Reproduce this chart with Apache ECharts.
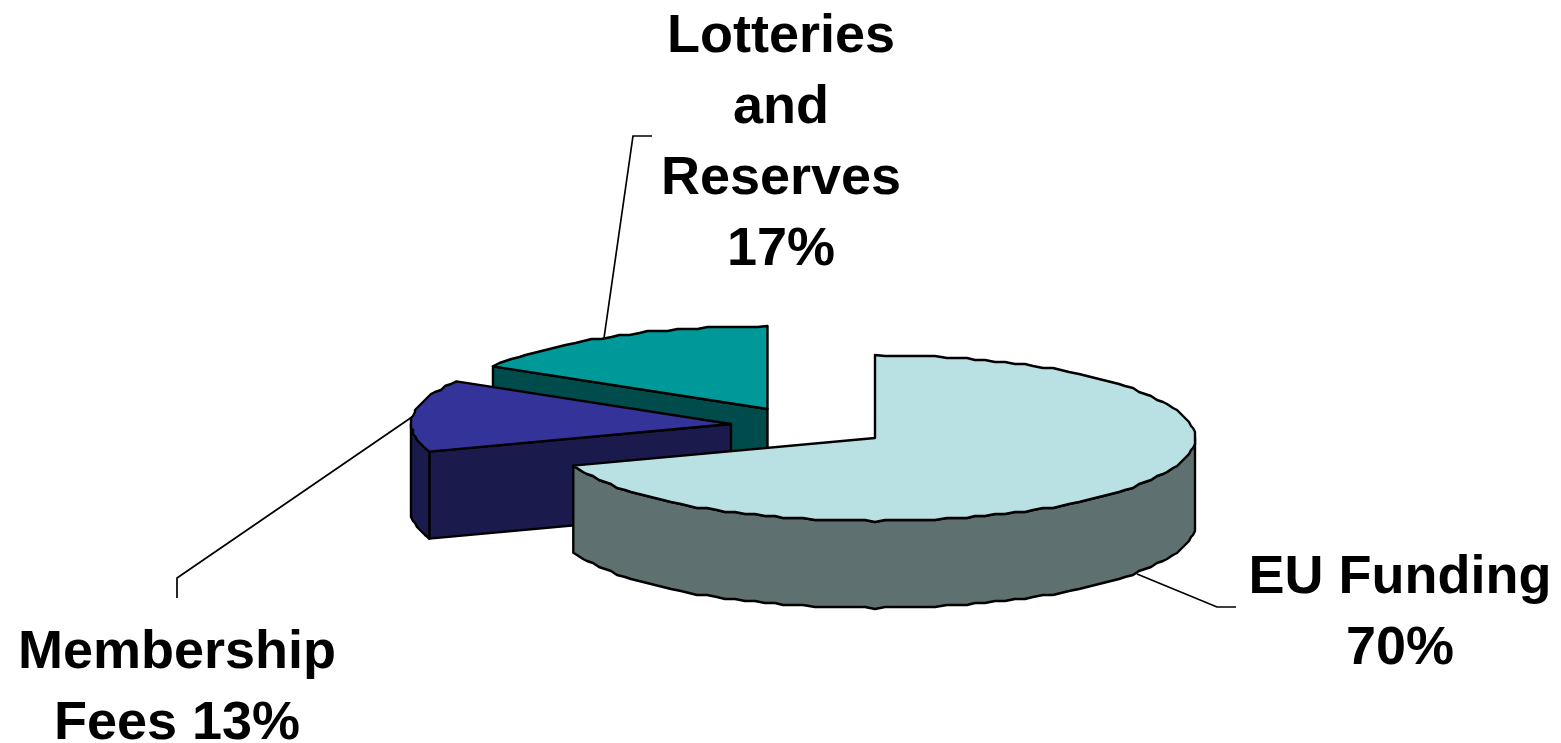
<!DOCTYPE html>
<html>
<head>
<meta charset="utf-8">
<style>html,body{margin:0;padding:0;background:#fff}#c{width:1561px;height:743px}</style>
<script src="https://cdn.jsdelivr.net/npm/echarts@6/dist/echarts.min.js"></script>
</head>
<body>
<div id="c"></div>
<script>
const categories = ['EU Funding', 'Membership Fees', 'Lotteries and Reserves'];
const shares = [70, 13, 17];
const wrappedLabels = ['EU Funding\n70%', 'Membership\nFees 13%', 'Lotteries\nand\nReserves\n17%'];
const topColors = ['#B9E0E3', '#333399', '#009999'];
const sideColors = ['#5F7071', '#1A1A4D', '#004C4D'];

// layout of the tilted pie
const centers = [[875, 438], [731, 424], [767.5, 409]];
const leaders = [
  [[1137, 574], [1217, 607], [1236, 607]],
  [[412, 417], [177, 578], [177, 598]],
  [[604, 338], [633, 136], [652, 136]]
];
const labelAnchors = [[1400, 614], [177, 689], [781, 143.5]];
const RX = 320, RY = 83, DEPTH = 87, LINE = 71, FONT = 54;
const WARP = 2.5;   // foreshortening of the projected angle, degrees
const SNAP = 2;     // coarse outline raster of the original picture, pixels

const total = shares.reduce((a, b) => a + b, 0);
const toRad = d => d * Math.PI / 180;
const project = d => d + WARP * Math.sin(toRad(2 * d));
const snap = v => Math.round(v / SNAP) * SNAP;
const stroke = { stroke: '#000', lineWidth: 2.4, lineJoin: 'round' };

function arc(c, a, b, dy) {
  const pts = [], n = Math.max(1, Math.ceil(Math.abs(b - a) / 2));
  for (let i = 0; i <= n; i++) {
    const t = toRad(project(a + (b - a) * i / n));
    const onEnd = i === 0 || i === n;
    const x = RX * Math.cos(t), y = RY * Math.sin(t);
    pts.push([c[0] + (onEnd ? x : snap(x)), c[1] + (onEnd ? y : snap(y)) + dy]);
  }
  return pts;
}
function poly(points, fill, z2) {
  return { type: 'polygon', z2, shape: { points }, style: { fill, ...stroke } };
}

function renderItem(params, api) {
  const i = params.dataIndex;
  let before = 0;
  for (let k = 0; k < i; k++) before += shares[k];
  const a = -90 + 360 * before / total;
  const b = a + 360 * api.value(0) / total;
  const c = centers[i];
  const base = (shares.length - i) * 10;
  const children = [];

  // cut face seen by the viewer
  [[a, -90], [b, 90]].forEach(([ang, turn]) => {
    if (Math.sin(toRad(ang + turn)) > 0.01) {
      const e = arc(c, ang, ang, 0)[0];
      children.push(poly([c, e, [e[0], e[1] + DEPTH], [c[0], c[1] + DEPTH]], sideColors[i], base + 1));
    }
  });
  // front part of the outer wall
  const from = Math.max(a, 0), to = Math.min(b, 180);
  if (to > from) {
    const t = arc(c, from, to, 0), d = arc(c, from, to, DEPTH).reverse();
    children.push(poly(t.concat(d), sideColors[i], base + 2));
  }
  // top surface
  children.push(poly([c].concat(arc(c, a, b, 0)), topColors[i], base + 3));
  // leader line
  children.push({
    type: 'polyline', z2: 1, shape: { points: leaders[i] },
    style: { stroke: '#000', lineWidth: 1.7, fill: null }
  });
  // label
  children.push({
    type: 'text', z2: 100,
    x: labelAnchors[i][0], y: labelAnchors[i][1],
    style: {
      text: wrappedLabels[i], align: 'center', verticalAlign: 'middle',
      font: 'bold ' + FONT + 'px "Liberation Sans", Arial, sans-serif',
      lineHeight: LINE, fill: '#000'
    }
  });
  return { type: 'group', children };
}

const chart = echarts.init(document.getElementById('c'), null, { renderer: 'canvas' });
chart.setOption({
  animation: false,
  backgroundColor: '#fff',
  tooltip: { show: false },
  series: [{
    type: 'custom',
    coordinateSystem: 'none',
    silent: true,
    renderItem,
    data: shares.map((v, i) => ({ name: categories[i], value: [v] }))
  }]
});
</script>
</body>
</html>
